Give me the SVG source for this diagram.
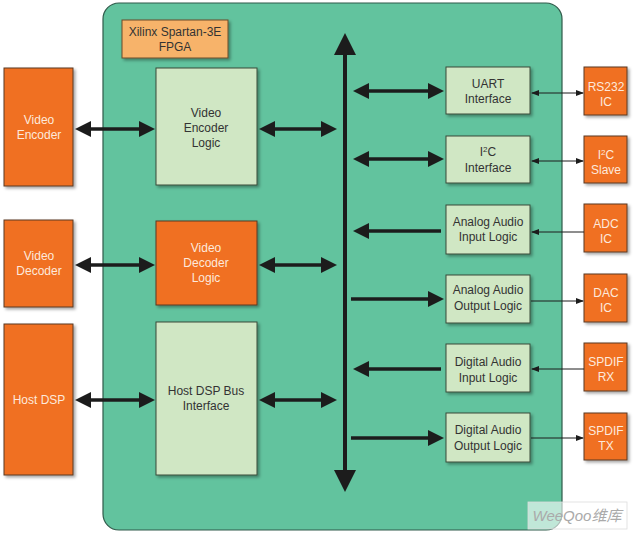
<svg xmlns="http://www.w3.org/2000/svg" width="635" height="535" viewBox="0 0 635 535">
<style>
text{font-family:"Liberation Sans",Arial,sans-serif;font-size:12px;text-anchor:middle}
.org{fill:#f07022;stroke:#5a3a20;stroke-width:1;filter:url(#sh)}
.grn{fill:#d0e7c4;stroke:#3a4a3a;stroke-width:1;filter:url(#sh)}
.wt{fill:#fde9dc}
.dk{fill:#333}
.thick{stroke:#1c1c1c;stroke-width:3.5;fill:none}
.thin{stroke:#1c1c1c;stroke-width:1;fill:none}
</style>
<defs>
<filter id="sh" x="-20%" y="-20%" width="140%" height="140%"><feDropShadow dx="2" dy="2" stdDeviation="1.5" flood-color="#000" flood-opacity="0.35"/></filter>
<marker id="big" markerUnits="userSpaceOnUse" markerWidth="16" markerHeight="16" viewBox="0 0 16 16" refX="5" refY="8" orient="auto-start-reverse"><path d="M0,0 L16,8 L0,16 z" fill="#1c1c1c"/></marker>
<marker id="sm" markerUnits="userSpaceOnUse" markerWidth="8" markerHeight="6" viewBox="0 0 8 6" refX="7" refY="3" orient="auto-start-reverse"><path d="M0,0 L8,3 L0,6 z" fill="#1c1c1c"/></marker>
</defs>
<rect width="635" height="535" fill="#fff"/>
<g id="fpga"><rect x="103" y="3" width="459" height="527" rx="16" fill="#62c39e" stroke="#2f5a4a" stroke-width="1.2"/></g>
<g id="label"><rect x="122" y="20" width="106" height="38" fill="#f7b36a" stroke="#6a4a2a" stroke-width="1" filter="url(#sh)"/><text x="175" y="36" class="dk">Xilinx Spartan-3E</text><text x="175" y="51" class="dk">FPGA</text></g>
<g id="video-encoder"><rect x="4" y="68" width="69" height="118" class="org"/><text x="39" y="124" class="wt">Video</text><text x="39" y="139" class="wt">Encoder</text></g>
<g id="video-decoder"><rect x="4" y="220" width="69" height="87" class="org"/><text x="39" y="260" class="wt">Video</text><text x="39" y="275" class="wt">Decoder</text></g>
<g id="host-dsp"><rect x="4" y="324" width="69" height="151" class="org"/><text x="39" y="404" class="wt">Host DSP</text></g>
<g id="video-encoder-logic"><rect x="156" y="68" width="101" height="117" class="grn"/><text x="206" y="117" class="dk">Video</text><text x="206" y="132" class="dk">Encoder</text><text x="206" y="147" class="dk">Logic</text></g>
<g id="video-decoder-logic"><rect x="156" y="221" width="101" height="84" class="org"/><text x="206" y="252" class="wt">Video</text><text x="206" y="267" class="wt">Decoder</text><text x="206" y="282" class="wt">Logic</text></g>
<g id="host-dsp-bus"><rect x="156" y="322" width="101" height="153" class="grn"/><text x="206" y="395" class="dk">Host DSP Bus</text><text x="206" y="410" class="dk">Interface</text></g>
<g id="uart"><rect x="446" y="67" width="84" height="47" class="grn"/><text x="488" y="88" class="dk">UART</text><text x="488" y="103" class="dk">Interface</text></g>
<g id="i2c"><rect x="446" y="136" width="84" height="47" class="grn"/><text x="488" y="156" class="dk">I<tspan font-size="8" dy="-4">2</tspan><tspan dy="4">C</tspan></text><text x="488" y="172" class="dk">Interface</text></g>
<g id="analog-in"><rect x="446" y="205" width="84" height="49" class="grn"/><text x="488" y="226" class="dk">Analog Audio</text><text x="488" y="241" class="dk">Input Logic</text></g>
<g id="analog-out"><rect x="446" y="275" width="84" height="48" class="grn"/><text x="488" y="294" class="dk">Analog Audio</text><text x="488" y="310" class="dk">Output Logic</text></g>
<g id="digital-in"><rect x="446" y="344" width="84" height="48" class="grn"/><text x="488" y="366" class="dk">Digital Audio</text><text x="488" y="382" class="dk">Input Logic</text></g>
<g id="digital-out"><rect x="446" y="413" width="84" height="49" class="grn"/><text x="488" y="434" class="dk">Digital Audio</text><text x="488" y="450" class="dk">Output Logic</text></g>
<g id="rs232"><rect x="584" y="67" width="43" height="48" class="org"/><text x="606" y="91" class="wt">RS232</text><text x="606" y="106" class="wt">IC</text></g>
<g id="i2c-slave"><rect x="584" y="136" width="43" height="47" class="org"/><text x="606" y="159" class="wt">I<tspan font-size="8" dy="-4">2</tspan><tspan dy="4">C</tspan></text><text x="606" y="174" class="wt">Slave</text></g>
<g id="adc"><rect x="584" y="204" width="43" height="48" class="org"/><text x="606" y="228" class="wt">ADC</text><text x="606" y="243" class="wt">IC</text></g>
<g id="dac"><rect x="584" y="274" width="43" height="48" class="org"/><text x="606" y="297" class="wt">DAC</text><text x="606" y="312" class="wt">IC</text></g>
<g id="spdif-rx"><rect x="584" y="343" width="43" height="48" class="org"/><text x="606" y="366" class="wt">SPDIF</text><text x="606" y="381" class="wt">RX</text></g>
<g id="spdif-tx"><rect x="584" y="413" width="43" height="47" class="org"/><text x="606" y="435" class="wt">SPDIF</text><text x="606" y="450" class="wt">TX</text></g>
<g id="connectors">
<line x1="345" y1="52" x2="345" y2="473" stroke="#1c1c1c" stroke-width="4"/>
<path d="M334,55 L345,33 L356,55 z" fill="#1c1c1c"/>
<path d="M334,470 L345,492 L356,470 z" fill="#1c1c1c"/>
<line x1="86" y1="129" x2="144" y2="129" class="thick" marker-start="url(#big)" marker-end="url(#big)"/>
<line x1="270" y1="129" x2="326" y2="129" class="thick" marker-start="url(#big)" marker-end="url(#big)"/>
<line x1="86" y1="265" x2="144" y2="265" class="thick" marker-start="url(#big)" marker-end="url(#big)"/>
<line x1="270" y1="265" x2="326" y2="265" class="thick" marker-start="url(#big)" marker-end="url(#big)"/>
<line x1="86" y1="400" x2="144" y2="400" class="thick" marker-start="url(#big)" marker-end="url(#big)"/>
<line x1="270" y1="400" x2="326" y2="400" class="thick" marker-start="url(#big)" marker-end="url(#big)"/>
<line x1="364" y1="91" x2="433" y2="91" class="thick" marker-start="url(#big)" marker-end="url(#big)"/>
<line x1="364" y1="159" x2="433" y2="159" class="thick" marker-start="url(#big)" marker-end="url(#big)"/>
<line x1="441" y1="231" x2="364" y2="231" class="thick" marker-end="url(#big)"/>
<line x1="351" y1="299" x2="433" y2="299" class="thick" marker-end="url(#big)"/>
<line x1="441" y1="369" x2="364" y2="369" class="thick" marker-end="url(#big)"/>
<line x1="351" y1="438" x2="433" y2="438" class="thick" marker-end="url(#big)"/>
<line x1="532" y1="93" x2="583" y2="93" class="thin" marker-start="url(#sm)" marker-end="url(#sm)"/>
<line x1="532" y1="161" x2="583" y2="161" class="thin" marker-start="url(#sm)" marker-end="url(#sm)"/>
<line x1="584" y1="232" x2="532" y2="232" class="thin" marker-end="url(#sm)"/>
<line x1="531" y1="301" x2="583" y2="301" class="thin" marker-end="url(#sm)"/>
<line x1="584" y1="369" x2="532" y2="369" class="thin" marker-end="url(#sm)"/>
<line x1="531" y1="438" x2="583" y2="438" class="thin" marker-end="url(#sm)"/>
</g>
<g id="watermark"><rect x="528" y="502" width="99" height="27" fill="#fff" fill-opacity="0.6" stroke="#ddd" stroke-width="0.8"/><text x="577" y="521" style="font-size:15px;font-style:italic;fill:#aaa;font-family:'Liberation Sans','Noto Sans CJK SC',sans-serif">WeeQoo维库</text></g>
</svg>
